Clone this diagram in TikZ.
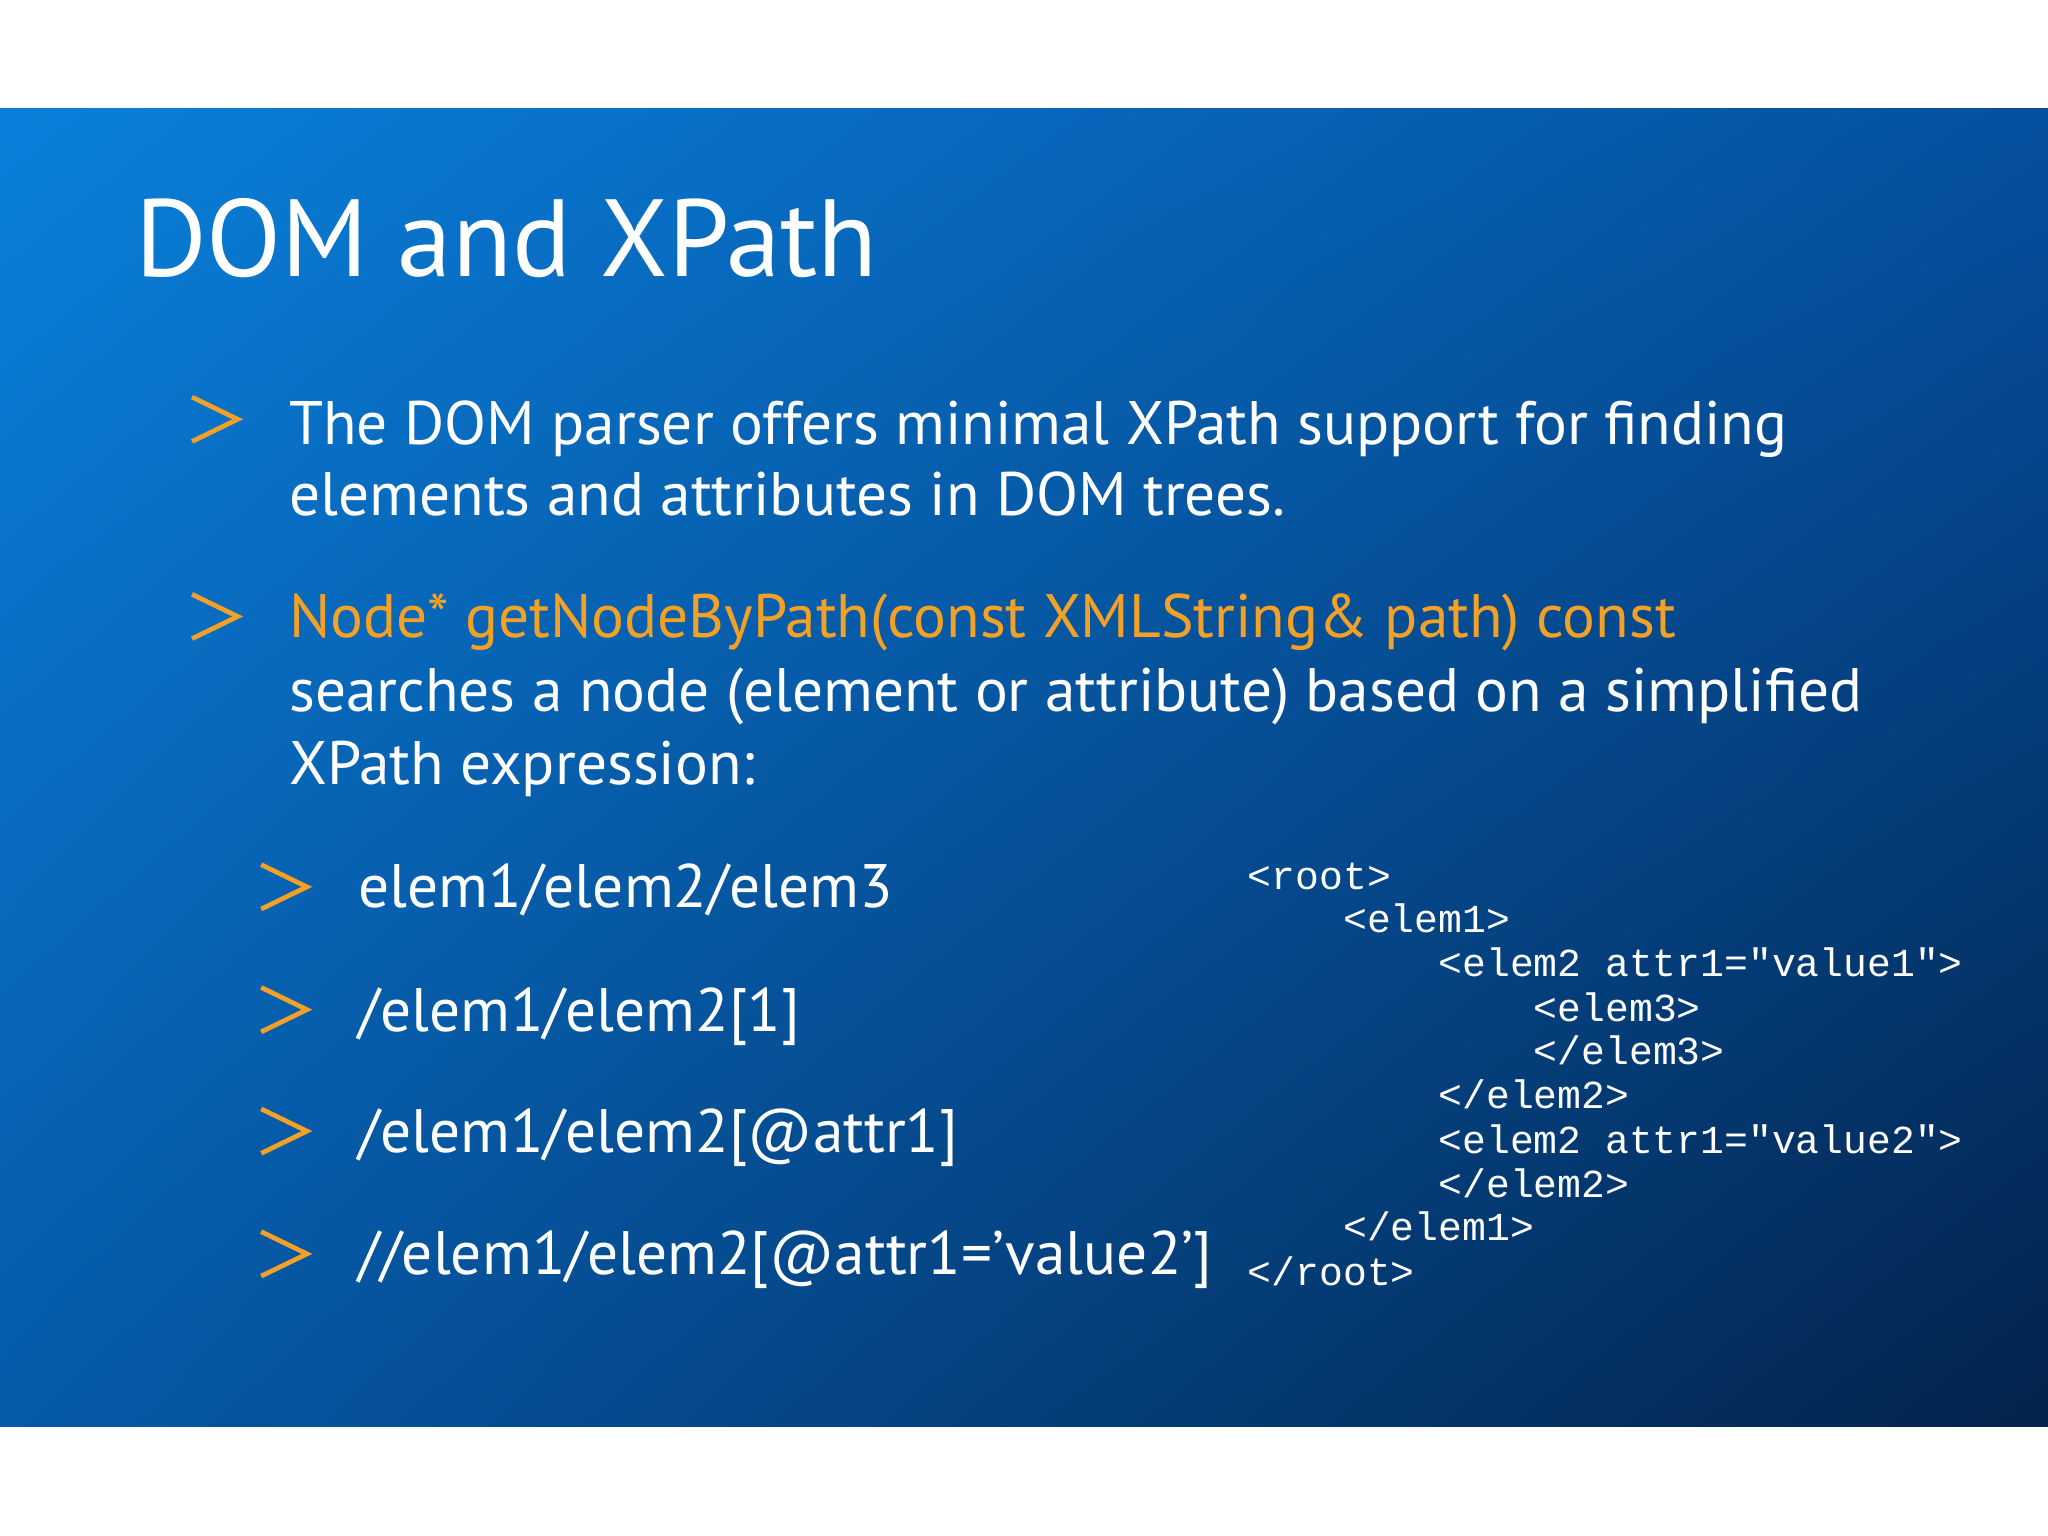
\documentclass[tikz,border=0pt]{standalone}
\usepackage{fontspec}
\usetikzlibrary{shadings}
\setmainfont{PT Sans}
\setmonofont{Liberation Mono}
\definecolor{org}{HTML}{F2A126}
\definecolor{bul}{RGB}{10,128,218}
\definecolor{bur}{RGB}{5,80,160}
\definecolor{bll}{RGB}{6,90,170}
\definecolor{blr}{RGB}{3,35,75}
\begin{document}
\begin{tikzpicture}[x=0.5pt,y=-0.5pt,
  chev/.style={draw=org,line width=1.8pt,line join=miter},
  body/.style={anchor=base west,text=white,inner sep=0,font=\fontsize{23.5}{28}\selectfont},
  code/.style={anchor=base west,text=white,inner sep=0,font=\ttfamily\fontsize{15.2}{18}\selectfont}]
\useasboundingbox (0,0) rectangle (1568,1176);
\fill[white] (0,0) rectangle (1568,1176);
\shade[upper left=bul, upper right=bur, lower left=bll, lower right=blr]
 (0,83) rectangle (1568,1092);
\node[anchor=base west,text=white,inner sep=0,font=\fontsize{42}{50}\selectfont] (title) at (103,212) {DOM and XPath};
\foreach \y in {321,472}{\draw[chev] (147,\y-17) -- (182,\y) -- (147,\y+17);}
\foreach \y in {679,773,866,960}{\draw[chev] (200,\y-17) -- (235,\y) -- (200,\y+17);}
\node[body] (l1) at (221,340) {The DOM parser offers minimal XPath support for finding};
\node[body] (l2) at (221,395) {elements and attributes in DOM trees.};
\node[body,text=org] (l3) at (221,488) {Node* getNodeByPath(const XMLString\& path) const};
\node[body] (l4) at (221,545) {searches a node (element or attribute) based on a simplified};
\node[body] (l5) at (221,601) {XPath expression:};
\node[body] (s1) at (274,695) {elem1/elem2/elem3};
\node[body] (s2) at (274,790) {/elem1/elem2[1]};
\node[body] (s3) at (274,882) {/elem1/elem2[@attr1]};
\node[body] (s4) at (274,976) {//elem1/elem2[@attr1='value2']};
\node[code] (c1) at (955,681) {<root>};
\node[code] (c2) at (1028,714) {<elem1>};
\node[code] (c3) at (1101,748) {<elem2 attr1="value1">};
\node[code] (c4) at (1174,782) {<elem3>};
\node[code] (c5) at (1174,815) {</elem3>};
\node[code] (c6) at (1101,849) {</elem2>};
\node[code] (c7) at (1101,883) {<elem2 attr1="value2">};
\node[code] (c8) at (1101,917) {</elem2>};
\node[code] (c9) at (1028,950) {</elem1>};
\node[code] (c10) at (955,984) {</root>};
\end{tikzpicture}
\end{document}
